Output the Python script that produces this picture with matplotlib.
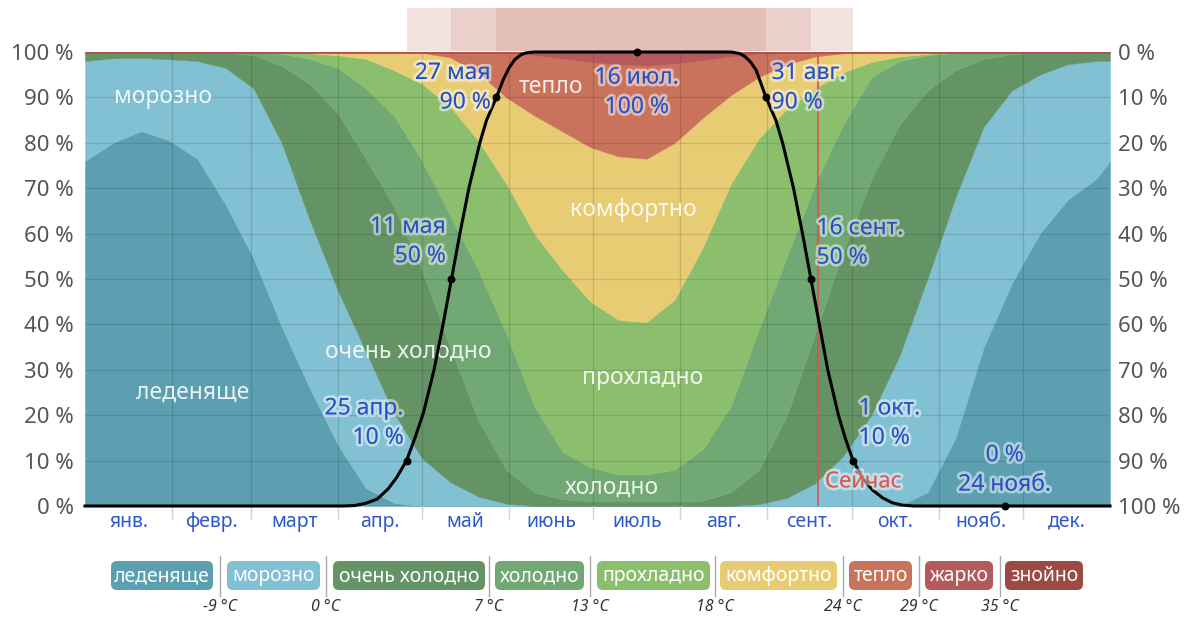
import numpy as np
import matplotlib.pyplot as plt
import matplotlib.patheffects as pe
import matplotlib.transforms as mtransforms
from matplotlib.patches import FancyBboxPatch, Rectangle

plt.rcParams['font.family'] = ['Noto Sans', 'DejaVu Sans']

# день года (0 = 1 янв.)
days = [0, 10, 20, 30, 40, 50, 60, 70, 80, 90, 100, 110, 120, 130, 140, 150, 160, 170, 180,
        190, 200, 210, 220, 230, 240, 250, 260, 270, 280, 290, 300, 310, 320, 330, 340, 350, 360, 365]

# верхние границы полос, % времени (накопительно снизу)
top_ledenyashche = [76, 80, 82.6, 80.5, 76.5, 66.5, 54.6, 39.5, 26, 13.5, 4, 0.7, 0, 0, 0, 0, 0, 0, 0,
                    0, 0, 0, 0, 0, 0, 0, 0, 0, 0, 0.1, 3, 15, 35, 49, 60, 67.5, 72, 76]
top_morozno = [98, 98.6, 98.7, 98.4, 98, 96.5, 92, 80, 63, 47.5, 34, 20.5, 10.5, 5.3, 2.1, 0.5, 0, 0, 0,
               0, 0, 0, 0, 0, 0.4, 1.8, 5, 11, 20, 33, 50, 68, 83.5, 91.5, 95, 97.3, 98, 98]
top_ochen_holodno = [100, 100, 100, 100, 100, 99.8, 99.3, 97, 93, 86.5, 76.5, 66, 52, 35, 19, 8, 3, 1.5, 1,
                     1, 1, 1, 1.2, 3, 8, 20, 38, 56, 72, 84, 91.5, 96, 98.5, 99.5, 99.8, 100, 100, 100]
top_holodno = [100, 100, 100, 100, 100, 100, 100, 99.6, 98.5, 96.5, 92, 86, 76, 64, 52, 38, 22, 12, 8.5,
               7, 7, 8, 12.5, 22, 39, 55, 71, 84, 94.5, 98, 99.3, 99.8, 100, 100, 100, 100, 100, 100]
top_prohladno = [100, 100, 100, 100, 100, 100, 100, 100, 99.7, 99.3, 98.5, 96, 93, 88, 80.5, 71, 60, 52, 45,
                 41, 40.5, 45.5, 57, 71, 81, 87.5, 92, 95.5, 97.8, 99, 99.6, 100, 100, 100, 100, 100, 100, 100]
top_komfortno = [100, 100, 100, 100, 100, 100, 100, 100, 100, 100, 100, 100, 99.8, 98.8, 95.5, 90, 86, 82.5, 79,
                 77, 76.5, 80, 85.5, 90.5, 94.5, 97.3, 99, 99.7, 100, 100, 100, 100, 100, 100, 100, 100, 100, 100]
top_teplo = [100, 100, 100, 100, 100, 100, 100, 100, 100, 100, 100, 100, 100, 100, 100, 99.9, 99.3, 98.5, 97.8,
             97.2, 97, 97.4, 98.2, 99, 99.6, 99.9, 100, 100, 100, 100, 100, 100, 100, 100, 100, 100, 100, 100]
top_zharko = [100, 100, 100, 100, 100, 100, 100, 100, 100, 100, 100, 100, 100, 100, 100, 100, 100, 100, 99.85,
              99.8, 99.8, 99.85, 100, 100, 100, 100, 100, 100, 100, 100, 100, 100, 100, 100, 100, 100, 100, 100]
top_znoyno = [100] * len(days)

band_names = ['леденяще', 'морозно', 'очень холодно', 'холодно', 'прохладно',
              'комфортно', 'тепло', 'жарко', 'знойно']
band_colors = ['#5b9fb1', '#82c0d3', '#649466', '#72a874', '#8bbf6e',
               '#e8cc74', '#c9735d', '#b35b5a', '#9b4a44']
band_temps = ['-9 °C', '0 °C', '7 °C', '13 °C', '18 °C', '24 °C', '29 °C', '35 °C']

# чёрная кривая, % (левая шкала)
curve_days = [0, 92, 96, 100, 104, 108, 111, 114.5, 117.5, 120.5, 124.3, 127.5, 130.5, 133.5, 136.7,
              140.6, 143, 146.5, 149, 151, 153, 155, 157, 160, 196.5, 230, 233, 235, 237, 239, 242.5,
              246, 248.4, 252.3, 255.5, 258.5, 261.5, 264.5, 268.3, 270.7, 273.5, 277, 280.5, 284,
              287.5, 291, 295, 327.5, 365]
curve_vals = [0, 0, 0.1, 0.6, 1.5, 3.8, 6.3, 10, 15, 20.5, 30, 40, 50, 60, 70,
              80, 85, 90, 94, 96.5, 98.3, 99.3, 99.8, 100, 100, 100, 99.7, 99, 97.8, 96, 90,
              85, 80, 70, 60, 50, 40, 30, 20, 15, 10, 6, 3.5, 1.8,
              0.7, 0.2, 0, 0, 0]

# отмеченные даты
mark_days = [114.5, 130.5, 146.5, 196.5, 242.5, 258.5, 273.5, 327.5]
mark_vals = [10, 50, 90, 100, 90, 50, 10, 0]
mark_texts = ['25 апр.\n10 %', '11 мая\n50 %', '27 мая\n90 %', '16 июл.\n100 %',
              '31 авг.\n90 %', '16 сент.\n50 %', '1 окт.\n10 %', '0 %\n24 нояб.']
now_day = 261

months = ['янв.', 'февр.', 'март', 'апр.', 'май', 'июнь', 'июль', 'авг.', 'сент.', 'окт.', 'нояб.', 'дек.']
month_len = [31, 28, 31, 30, 31, 30, 31, 31, 30, 31, 30, 31]

fig = plt.figure(figsize=(11.91, 6.17), dpi=100)
ax = fig.add_axes([85 / 1191, 111 / 617, 1025 / 1191, 454 / 617])

tops = [top_ledenyashche, top_morozno, top_ochen_holodno, top_holodno, top_prohladno,
        top_komfortno, top_teplo, top_zharko, top_znoyno]
lower = np.zeros(len(days))
for top, c in zip(tops, band_colors):
    top = np.array(top)
    ax.fill_between(days, lower, top, facecolor=c, edgecolor=c, lw=0.3, zorder=1)
    lower = top

ax.set_xlim(0, 365)
ax.set_ylim(0, 100)
for s in ax.spines.values():
    s.set_visible(False)

starts = np.cumsum([0] + month_len[:-1])
centers = starts + np.array(month_len) / 2
ax.set_xticks(starts[1:])
ax.set_xticklabels([])
ax.set_xticks(centers, minor=True)
ax.set_xticklabels(months, minor=True, color='#2e59c6', fontsize=14)
ax.tick_params(axis='x', which='major', length=9, color='#d0d0d0', width=1)
ax.tick_params(axis='x', which='minor', length=0, pad=4)
ax.grid(axis='x', which='major', color='black', alpha=0.13, lw=1, zorder=2)
for v in range(10, 100, 10):
    ax.axhline(v, color='black', alpha=0.11, lw=1, zorder=2)

ax.set_yticks(range(0, 101, 10))
ax.set_yticklabels([f'{v} %' for v in range(0, 101, 10)], color='#555555', fontsize=16)
ax.tick_params(axis='y', length=0, pad=8)

ax2 = ax.twinx()
ax2.set_ylim(100, 0)
ax2.set_yticks(range(0, 101, 10))
ax2.set_yticklabels([f'{v} %' for v in range(0, 101, 10)], color='#555555', fontsize=16)
ax2.tick_params(axis='y', length=0, pad=6)
for s in ax2.spines.values():
    s.set_visible(False)

# верхняя кромка
ax.axhline(100, color='#b0504a', lw=2, zorder=3)

# полосы над графиком
trans = mtransforms.blended_transform_factory(ax.transData, ax.transAxes)
spans = [(mark_days[0], mark_days[6], '#f2e2df'),
         (mark_days[1], mark_days[5], '#eacfca'),
         (mark_days[2], mark_days[4], '#e3bfb7')]
for a, b, c in spans:
    ax.add_patch(Rectangle((a, 1.003), b - a, 0.095, transform=trans, facecolor=c,
                           edgecolor='none', clip_on=False, zorder=0))

# сейчас
ax.axvline(now_day, color='#d9534f', lw=1.2, zorder=4)
halo = [pe.withStroke(linewidth=4, foreground=(1, 1, 1, 0.5))]
ax.annotate('Сейчас', (now_day, 5.3), xytext=(5, 0), textcoords='offset points',
            ha='left', va='center', fontsize=16, color='#d9534f', path_effects=halo, zorder=6)

# кривая
ax.plot(curve_days, curve_vals, color='black', lw=2.2, zorder=5, clip_on=False)
ax.scatter(mark_days, mark_vals, s=22, color='black', zorder=6, clip_on=False)

offsets = [(-2, 27, 'right'), (-4, 27, 'right'), (-4, 7, 'right'), (0, -29, 'center'),
           (4, 7, 'left'), (4, 26, 'left'), (4, 27, 'left'), (0, 26, 'center')]
for d, v, t, (dx, dy, ha) in zip(mark_days, mark_vals, mark_texts, offsets):
    ax.annotate(t, (d, v), xytext=(dx, dy), textcoords='offset points', ha=ha, va='center',
                multialignment=ha, fontsize=16.5, color='#2550c4', linespacing=1.3,
                path_effects=halo, zorder=7)

# подписи полос
band_label_pos = [(38.5, 24.9, 0), (27.8, 90.1, 1), (115, 33.9, 2), (187.7, 4, 3),
                  (198.7, 28.2, 4), (195.2, 65.2, 5), (166, 92.3, 6)]
for x, y, i in band_label_pos:
    ax.text(x, y, band_names[i], ha='center', va='center', fontsize=16.5,
            color='white', alpha=0.88, zorder=4)

# легенда
lg = fig.add_axes([0, 0, 1, 1], zorder=-1)
lg.set_xlim(0, 1191)
lg.set_ylim(617, 0)
lg.axis('off')
box_x = [(111, 213), (227, 320), (333, 485), (495, 584), (597, 710),
         (720, 837), (849, 912), (925, 993), (1005, 1083)]
sep_x = [220, 326, 489, 590, 715, 843, 919, 1000]
for (x0, x1), c, name in zip(box_x, band_colors, band_names):
    lg.add_patch(FancyBboxPatch((x0, 561), x1 - x0, 29, boxstyle='round,pad=0,rounding_size=6',
                                facecolor=c, edgecolor='none'))
    lg.text((x0 + x1) / 2, 576, name, ha='center', va='center', fontsize=14, color='white')
for sx, t in zip(sep_x, band_temps):
    lg.plot([sx, sx], [556, 596], color='#aaaaaa', lw=1)
    lg.text(sx, 607, t, ha='center', va='center', fontsize=11.5, style='italic', color='#333333')

fig.savefig('out.png', dpi=100)
